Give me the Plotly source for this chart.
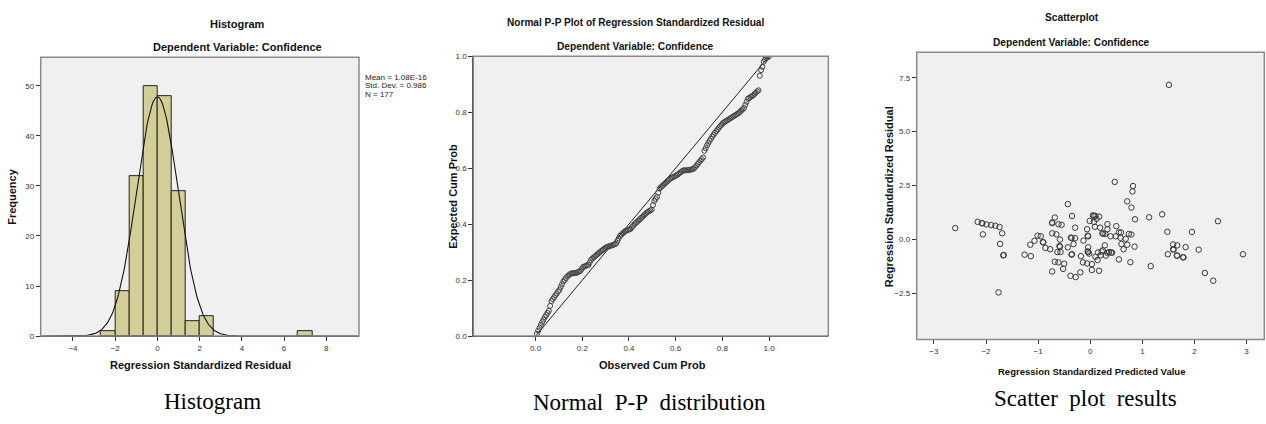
import math
import plotly.graph_objects as go

W, H = 1266, 424

# ---------------- data ----------------
hist_bin_centers = [-2.333, -1.667, -1.0, -0.333, 0.333, 1.0, 1.667, 2.333, 7.0]
hist_counts = [1, 9, 32, 50, 48, 29, 3, 4, 1]
hist_bin_width = 0.667
resid_mean = 1.08e-16
resid_sd = 0.986
n_cases = 177
stats_lines = ["Mean = 1.08E-16", "Std. Dev. = 0.986", "N = 177"]

pp_expected = [
    0.008, 0.020, 0.030, 0.040, 0.050, 0.059, 0.068, 0.075, 0.083, 0.090,
    0.108, 0.125, 0.132, 0.139, 0.146, 0.152, 0.159, 0.165, 0.175, 0.185,
    0.195, 0.201, 0.207, 0.213, 0.217, 0.221, 0.224, 0.224, 0.225, 0.225,
    0.226, 0.228, 0.231, 0.233, 0.240, 0.247, 0.249, 0.251, 0.253, 0.254,
    0.263, 0.272, 0.277, 0.281, 0.285, 0.289, 0.293, 0.297, 0.301, 0.305,
    0.308, 0.312, 0.315, 0.318, 0.320, 0.321, 0.323, 0.324, 0.326, 0.328,
    0.330, 0.340, 0.349, 0.358, 0.362, 0.367, 0.371, 0.375, 0.377, 0.379,
    0.381, 0.383, 0.389, 0.394, 0.400, 0.404, 0.408, 0.413, 0.417, 0.422,
    0.426, 0.431, 0.435, 0.440, 0.443, 0.446, 0.449, 0.452, 0.468, 0.483,
    0.490, 0.497, 0.512, 0.527, 0.532, 0.536, 0.541, 0.545, 0.549, 0.554,
    0.558, 0.562, 0.565, 0.567, 0.570, 0.572, 0.575, 0.578, 0.582, 0.585,
    0.589, 0.592, 0.592, 0.592, 0.593, 0.593, 0.594, 0.595, 0.597, 0.598,
    0.604, 0.609, 0.615, 0.621, 0.627, 0.632, 0.638, 0.662, 0.671, 0.681,
    0.690, 0.698, 0.705, 0.713, 0.720, 0.726, 0.732, 0.738, 0.744, 0.750,
    0.755, 0.761, 0.764, 0.767, 0.770, 0.773, 0.776, 0.779, 0.782, 0.785,
    0.788, 0.791, 0.794, 0.797, 0.801, 0.806, 0.810, 0.815, 0.826, 0.837,
    0.848, 0.851, 0.854, 0.857, 0.860, 0.865, 0.869, 0.874, 0.878, 0.930,
    0.950, 0.962, 0.980, 0.988, 0.993, 0.996, 1.000,
]
pp_observed = [i / n_cases for i in range(1, len(pp_expected) + 1)]

sc_pred = [
    -2.59, -2.16, -2.08, -2.07, -1.99, -1.90, -1.82, -1.74, -1.69, -2.06, -1.73, -1.67, -1.66, -1.76,
    -1.26, -1.14, -1.15, -1.07, -1.01, -0.95, -0.91, -0.90, -0.86, -0.77, -0.73, -0.73, -0.68, -0.73,
    -0.65, -0.61, -0.55, -0.58, -0.59, -0.58, -0.63, -0.57, -0.68, -0.61, -0.50, -0.52, -0.73, -0.43,
    -0.35, -0.29, -0.37, -0.36, -0.29, -0.32, -0.43, -0.36, -0.35, -0.38, -0.28, -0.19, -0.18, -0.14,
    -0.13, -0.06, -0.05, -0.04, -0.04, -0.04, -0.05, -0.06, 0.03, 0.03, -0.01, 0.05, 0.07, 0.10,
    0.17, 0.12, 0.07, 0.09, 0.14, 0.17, 0.20, 0.24, 0.28, 0.19, 0.23, 0.25, 0.29, 0.33, 0.33, 0.39,
    0.36, 0.42, 0.40, 0.49, 0.50, 0.55, 0.59, 0.55, 0.47, 0.58, 0.60, 0.64, 0.68, 0.71, 0.71, 0.79,
    0.82, 0.81, 0.74, 0.79, 0.86, 0.85, 0.77, 0.10, 0.22, 0.30, 0.33, -0.02, 0.15,
    1.13, 1.38, 1.16, 1.48, 1.49, 1.51, 1.59, 1.59, 1.60, 1.67, 1.66, 1.67, 1.78, 1.79, 1.83, 1.95,
    2.08, 2.20, 2.36, 2.45, 2.93,
]
sc_resid = [
    0.53, 0.82, 0.76, 0.75, 0.70, 0.67, 0.64, 0.58, 0.29, 0.24, -0.20, -0.73, -0.72, -2.45,
    -0.70, -0.77, -0.24, -0.06, 0.18, 0.15, -0.12, -0.13, -0.39, -0.45, 0.79, 0.76, 1.02, 0.29,
    0.24, 0.71, 0.68, 0.00, -0.30, -0.33, -0.58, -0.58, -1.03, -1.06, -1.12, -1.36, -1.48, 1.64,
    1.09, 0.55, 0.09, 0.07, 0.06, -0.21, -0.36, -0.70, -0.68, -1.68, -1.74, -1.52, -0.77, -1.06,
    -0.05, 0.48, -0.55, -0.58, -0.36, 0.15, 0.18, -1.11, -1.14, -1.41, 0.86, 1.12, 1.10, 1.09,
    1.06, 0.96, 0.82, 0.59, -0.95, -1.45, -0.73, -0.50, -0.27, 0.55, 0.29, 0.27, 0.26, 0.48, 0.71, 0.15,
    -0.58, -0.61, -0.60, 0.15, 0.62, 0.33, 0.33, -0.92, 2.67, 0.08, -0.21, -0.45, 0.03, -0.24, 1.77, 1.48,
    2.48, 2.23, 0.26, 0.23, 0.94, -0.33, -1.05, -0.80, -0.55, -0.75, -0.62, -0.65, -0.60,
    1.03, 1.17, -1.23, 0.36, -0.68, 7.17, -0.23, -0.45, -0.47, -0.27, -0.74, -0.75, -0.82, -0.83, -0.35, 0.35,
    -0.47, -1.55, -1.91, 0.85, -0.68,
]

hist_x_ticks = [-4, -2, 0, 2, 4, 6, 8]
hist_y_ticks = [0, 10, 20, 30, 40, 50]
pp_ticks = [0.0, 0.2, 0.4, 0.6, 0.8, 1.0]
sc_x_ticks = [-3, -2, -1, 0, 1, 2, 3]
sc_y_ticks = [-2.5, 0.0, 2.5, 5.0, 7.5]

# normal curve overlay from the reported mean / sd / N
curve_x = [-5.5 + k * 0.05 for k in range(301)]
curve_y = [n_cases * hist_bin_width / (resid_sd * math.sqrt(2 * math.pi))
           * math.exp(-0.5 * ((v - resid_mean) / resid_sd) ** 2) for v in curve_x]

# ---------------- figure ----------------
SANS = "Liberation Sans, Arial, sans-serif"
SERIF = "Liberation Serif, Times New Roman, serif"
BG = "#F0F0F0"


def dom_x(a, b):
    return [a / W, b / W]


def dom_y(top, bot):
    return [1 - bot / H, 1 - top / H]


fig = go.Figure()

fig.add_trace(go.Bar(x=hist_bin_centers, y=hist_counts, width=hist_bin_width,
                     marker=dict(color="#D3CE97", line=dict(color="#222222", width=1)),
                     xaxis="x", yaxis="y", showlegend=False))
fig.add_trace(go.Scatter(x=curve_x, y=curve_y, mode="lines",
                         line=dict(color="#111111", width=1.1),
                         xaxis="x", yaxis="y", showlegend=False))

fig.add_trace(go.Scatter(x=[0, 1], y=[0, 1], mode="lines",
                         line=dict(color="#222222", width=1),
                         xaxis="x2", yaxis="y2", showlegend=False))
fig.add_trace(go.Scatter(x=pp_observed, y=pp_expected, mode="markers",
                         marker=dict(symbol="circle-open", size=5,
                                     line=dict(color="#444444", width=1), color="#444444"),
                         xaxis="x2", yaxis="y2", showlegend=False))

fig.add_trace(go.Scatter(x=sc_pred, y=sc_resid, mode="markers",
                         marker=dict(symbol="circle-open", size=5.5,
                                     line=dict(color="#3a3a3a", width=1), color="#3a3a3a"),
                         xaxis="x3", yaxis="y3", showlegend=False))

tickfont = dict(family=SANS, size=8, color="#333333")
axis_common = dict(showgrid=False, zeroline=False, showline=True, linecolor="#333333",
                   linewidth=1, ticks="outside", ticklen=4, tickcolor="#333333",
                   tickfont=tickfont, fixedrange=True)

fig.update_layout(
    width=W, height=H, margin=dict(l=0, r=0, t=0, b=0),
    paper_bgcolor="white", plot_bgcolor=BG, bargap=0,
    xaxis=dict(domain=dom_x(40.7, 359), range=[-5.53, 9.55], tickvals=hist_x_ticks,
               anchor="y", **axis_common),
    yaxis=dict(domain=dom_y(54.3, 339.3), range=[0, 55.7], tickvals=hist_y_ticks,
               anchor="x", **axis_common),
    xaxis2=dict(domain=dom_x(473.3, 828.3), range=[-0.267, 1.254], tickvals=pp_ticks,
                tickformat=".1f", anchor="y2", **axis_common),
    yaxis2=dict(domain=dom_y(53.3, 339.3), range=[0, 1], tickvals=pp_ticks,
                tickformat=".1f", anchor="x2", **axis_common),
    xaxis3=dict(domain=dom_x(916.7, 1264.3), range=[-3.33, 3.34], tickvals=sc_x_ticks,
                anchor="y3", **axis_common),
    yaxis3=dict(domain=dom_y(49.3, 342.7), range=[-4.63, 8.68], tickvals=sc_y_ticks,
                tickformat=".1f", anchor="x3", **axis_common),
)

# plot frames (grey top/right edges)
for xr, yr in [("x", "y"), ("x2", "y2"), ("x3", "y3")]:
    fig.add_shape(type="rect", xref=f"{xr} domain", yref=f"{yr} domain",
                  x0=0, x1=1, y0=0, y1=1, line=dict(color="#8a8a8a", width=1.5),
                  fillcolor="rgba(0,0,0,0)", layer="above")


def text(s, px, py, size=11, family=SANS, bold=False, angle=0, xanchor="center", color="#111111"):
    if bold:
        s = f"<b>{s}</b>"
    fig.add_annotation(text=s, x=px / W, y=1 - py / H, xref="paper", yref="paper",
                       showarrow=False, xanchor=xanchor, yanchor="middle", textangle=angle,
                       font=dict(family=family, size=size, color=color))


# histogram panel texts
text("Histogram", 237, 20, bold=True)
text("Dependent Variable: Confidence", 237, 44.3, bold=True)
text("Regression Standardized Residual", 200, 369, bold=True)
text("Frequency", 12, 197, bold=True, angle=-90)
for line, py in zip(stats_lines, [75, 83.5, 92]):
    text(line, 363.5, py, size=8, xanchor="left", color="#222222")
text("Histogram", 212.7, 406, size=23, family=SERIF, color="black")

# P-P panel texts
text("Normal P-P Plot of Regression Standardized Residual", 635, 19.3, size=10.1, bold=True)
text("Dependent Variable: Confidence", 635.7, 43.7, size=10.2, bold=True)
text("Observed Cum Prob", 652.3, 369, size=11, bold=True)
text("Expected Cum Prob", 452.3, 196.7, bold=True, angle=-90)
text("Normal\u00a0 P-P\u00a0 distribution", 649, 407, size=23, family=SERIF, color="black")

# scatter panel texts
text("Scatterplot", 1071.7, 14, size=10.2, bold=True)
text("Dependent Variable: Confidence", 1071.7, 39.3, size=10.2, bold=True)
text("Regression Standardized Predicted Value", 1091, 375, size=9.5, bold=True)
text("Regression Standardized Residual", 888.7, 196.7, bold=True, angle=-90)
text("Scatter\u00a0 plot\u00a0 results", 1085, 403, size=23, family=SERIF, color="black")

fig.write_html("out.html")
